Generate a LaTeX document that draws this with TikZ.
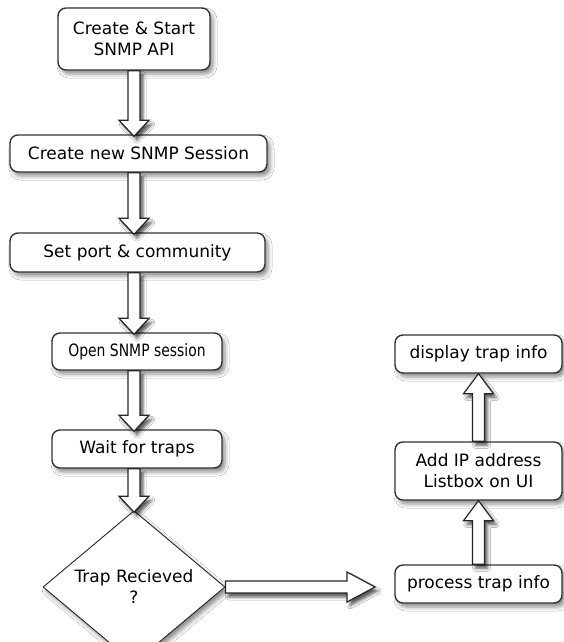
\documentclass[tikz,border=0pt]{standalone}
\usepackage{fontspec}
\setmainfont{DejaVu Sans}
\usetikzlibrary{shapes.geometric,calc,shadows.blur}

\tikzset{
  softshadow/.style={blur shadow={shadow xshift=3pt, shadow yshift=-4pt,
      shadow blur radius=4pt, shadow opacity=45}},
  darkshadow/.style={blur shadow={shadow xshift=3pt, shadow yshift=-4pt,
      shadow blur radius=3pt, shadow opacity=65}},
  stepbox/.style={draw=black!80, line width=1.4pt, rounded corners=8pt,
      fill=white, inner sep=0pt, align=center, text=black,
      font=\fontsize{17}{21}\selectfont, softshadow},
  decision/.style={diamond, draw=black!85, line width=0.9pt, fill=white,
      inner sep=0pt, align=center, text=black,
      font=\fontsize{17}{21}\selectfont, softshadow},
  blockarrow/.style={draw=black!85, line width=1.2pt, fill=white,
      line join=miter, darkshadow},
}

% vertical block arrow pointing down, on the column of the decision node
\newcommand{\flowdown}[2]{%
  \draw[blockarrow]
    ($(#1.south -| dec.center)+(-6,0)$) --
    ($(#2.north -| dec.center)+(-6,-14)$) --
    ($(#2.north -| dec.center)+(-15,-14)$) --
    ($(#2.north -| dec.center)+(0,2)$) --
    ($(#2.north -| dec.center)+(15,-14)$) --
    ($(#2.north -| dec.center)+(6,-14)$) --
    ($(#1.south -| dec.center)+(6,0)$) -- cycle;}

% vertical block arrow pointing up
\newcommand{\flowup}[2]{%
  \draw[blockarrow]
    ($(#1.north)+(-6,0)$) --
    ($(#2.south)+(-6,20)$) --
    ($(#2.south)+(-15,20)$) --
    ($(#2.south)$) --
    ($(#2.south)+(15,20)$) --
    ($(#2.south)+(6,20)$) --
    ($(#1.north)+(6,0)$) -- cycle;}

\begin{document}
\begin{tikzpicture}[x=1pt, y=-1pt]
  \fill[white] (0,0) rectangle (563,642);
  \useasboundingbox (0,0) rectangle (563,642);

  % main column
  \node[stepbox, minimum width=152pt, minimum height=62pt] (start)
    at (134,39) {Create \& Start\\SNMP API};
  \node[stepbox, minimum width=257pt, minimum height=37pt] (sess)
    at (138.5,153.5) {Create new SNMP Session};
  \node[stepbox, minimum width=255pt, minimum height=39pt] (port)
    at (137.5,252.5) {Set port \& community};
  \node[stepbox, minimum width=170pt, minimum height=37pt] (open)
    at (137,351.5) {\scalebox{0.82}[1]{Open SNMP session}};
  \node[stepbox, minimum width=170pt, minimum height=38pt] (wait)
    at (137,449) {Wait for traps};
  \node[decision, minimum width=182pt, minimum height=100pt] (dec)
    at (134,587) {Trap Recieved\\?};

  % right column
  \node[stepbox, minimum width=167pt, minimum height=38pt] (disp)
    at (478.5,354) {display trap info};
  \node[stepbox, minimum width=167pt, minimum height=58pt] (addip)
    at (478.5,471) {Add IP address\\Listbox on UI};
  \node[stepbox, minimum width=167pt, minimum height=38pt] (proc)
    at (478.5,584) {process trap info};

  % connectors
  \flowdown{start}{sess}
  \flowdown{sess}{port}
  \flowdown{port}{open}
  \flowdown{open}{wait}
  \flowdown{wait}{dec}

  \coordinate (tip) at (375,587);
  \draw[blockarrow]
    ($(dec.east)+(0,-6)$) --
    ($(tip |- dec.east)+(-28,-6)$) --
    ($(tip |- dec.east)+(-28,-15)$) --
    (tip |- dec.east) --
    ($(tip |- dec.east)+(-28,15)$) --
    ($(tip |- dec.east)+(-28,6)$) --
    ($(dec.east)+(0,6)$) -- cycle;

  \flowup{proc}{addip}
  \flowup{addip}{disp}
\end{tikzpicture}
\end{document}
